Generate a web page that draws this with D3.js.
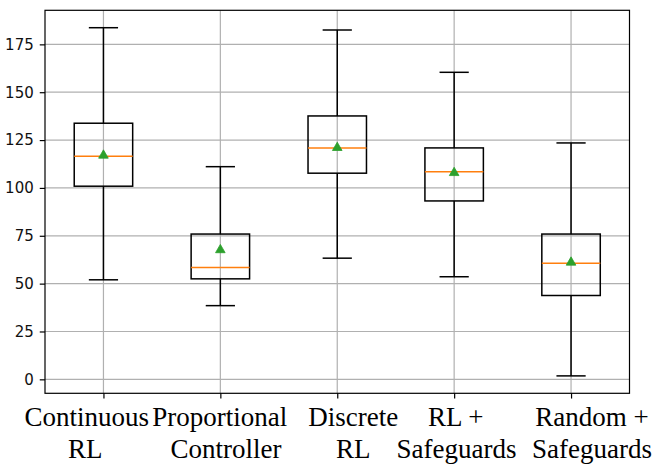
<!DOCTYPE html>
<html>
<head>
<meta charset="utf-8">
<script src="https://cdn.jsdelivr.net/npm/d3@7"></script>
<style>
  html, body { margin: 0; padding: 0; background: #fff; }
  svg { display: block; }
</style>
</head>
<body>
<script>
// ---- data ----
const categories = [["Continuous", "RL"], ["Proportional", "Controller"], ["Discrete", "RL"], ["RL +", "Safeguards"], ["Random +", "Safeguards"]];
const whiskerLow  = [52.0, 38.5, 63.3, 53.6, 1.8];
const q1Values    = [100.9, 52.5, 107.7, 93.2, 43.8];
const medians     = [116.6, 58.4, 120.9, 108.4, 60.7];
const q3Values    = [133.8, 75.9, 137.6, 120.9, 75.9];
const whiskerHigh = [183.7, 111.1, 182.5, 160.4, 123.5];
const means       = [117.0, 67.6, 121.0, 107.9, 61.1];
const yTicks      = [0, 25, 50, 75, 100, 125, 150, 175];

// ---- layout ----
const W = 655, H = 465;
const plot = { left: 45, right: 629.5, top: 10.3, bottom: 393.3 };
const labelShift1 = [-16.8, -0.7, 16, 1.5, 21];
const labelShift2 = [-18.2, 5.7, 16, 2.3, 21];

const svg = d3.select("body").append("svg").attr("width", W).attr("height", H);

const idx = d3.range(categories.length);
const x = d3.scaleLinear().domain([0.5, categories.length + 0.5]).range([plot.left, plot.right]);
const lo = d3.min(whiskerLow), hi = d3.max(whiskerHigh);
const pad = (hi - lo) * 0.05;
const y = d3.scaleLinear().domain([lo - pad, hi + pad]).range([plot.bottom, plot.top]);

const gridColor = "#b0b0b0";
// grid
svg.append("g").selectAll("line.h").data(yTicks).join("line")
  .attr("x1", plot.left).attr("x2", plot.right)
  .attr("y1", d => y(d)).attr("y2", d => y(d))
  .attr("stroke", gridColor).attr("stroke-width", 1.2);
svg.append("g").selectAll("line.v").data(idx).join("line")
  .attr("x1", i => x(i + 1)).attr("x2", i => x(i + 1))
  .attr("y1", plot.top).attr("y2", plot.bottom)
  .attr("stroke", gridColor).attr("stroke-width", 1.2);

// axes
const yAxis = d3.axisLeft(y).tickValues(yTicks).tickSize(5.25).tickPadding(6);
const gy = svg.append("g").attr("transform", `translate(${plot.left},0)`).call(yAxis);
gy.select(".domain").remove();
gy.selectAll(".tick line").attr("stroke", "#000").attr("stroke-width", 1.2);
gy.selectAll(".tick text").attr("font-family", "DejaVu Sans").attr("font-size", 15).attr("fill", "#111");

const xAxis = d3.axisBottom(x).tickValues(idx.map(i => i + 1)).tickSize(5.25).tickFormat("");
const gx = svg.append("g").attr("transform", `translate(0,${plot.bottom})`).call(xAxis);
gx.select(".domain").remove();
gx.selectAll(".tick line").attr("stroke", "#000").attr("stroke-width", 1.2);

// frame
svg.append("rect").attr("x", plot.left).attr("y", plot.top)
  .attr("width", plot.right - plot.left).attr("height", plot.bottom - plot.top)
  .attr("fill", "none").attr("stroke", "#000").attr("stroke-width", 1.2);

// boxes
const bw = x(1.25) - x(1);   // half box width (0.5 units total)
const cw = x(1.125) - x(1);  // half cap width
const g = svg.append("g").selectAll("g").data(idx).join("g");
const lineStyle = s => s.attr("stroke", "#000").attr("stroke-width", 1.5).attr("fill", "none");

g.append("line").attr("x1", i => x(i + 1)).attr("x2", i => x(i + 1))
  .attr("y1", i => y(q3Values[i])).attr("y2", i => y(whiskerHigh[i])).call(lineStyle);
g.append("line").attr("x1", i => x(i + 1)).attr("x2", i => x(i + 1))
  .attr("y1", i => y(q1Values[i])).attr("y2", i => y(whiskerLow[i])).call(lineStyle);
g.append("line").attr("x1", i => x(i + 1) - cw).attr("x2", i => x(i + 1) + cw)
  .attr("y1", i => y(whiskerHigh[i])).attr("y2", i => y(whiskerHigh[i])).call(lineStyle);
g.append("line").attr("x1", i => x(i + 1) - cw).attr("x2", i => x(i + 1) + cw)
  .attr("y1", i => y(whiskerLow[i])).attr("y2", i => y(whiskerLow[i])).call(lineStyle);
g.append("rect").attr("x", i => x(i + 1) - bw).attr("width", 2 * bw)
  .attr("y", i => y(q3Values[i])).attr("height", i => y(q1Values[i]) - y(q3Values[i])).call(lineStyle);
g.append("line").attr("x1", i => x(i + 1) - bw).attr("x2", i => x(i + 1) + bw)
  .attr("y1", i => y(medians[i])).attr("y2", i => y(medians[i]))
  .attr("stroke", "#ff7f0e").attr("stroke-width", 1.5);
const tri = d3.symbol().type(d3.symbolTriangle).size(40);
g.append("path").attr("d", tri)
  .attr("transform", i => `translate(${x(i + 1)},${y(means[i])})`)
  .attr("fill", "#2ca02c").attr("stroke", "#2ca02c").attr("stroke-width", 0.8);

// category labels
const lab = svg.append("g").attr("font-family", "Liberation Serif, Times New Roman, serif")
  .attr("font-size", 27).attr("fill", "#000").attr("text-anchor", "middle");
lab.selectAll("text.l1").data(idx).join("text")
  .attr("x", i => x(i + 1) + labelShift1[i]).attr("y", 425.7)
  .text(i => categories[i][0]);
lab.selectAll("text.l2").data(idx).join("text")
  .attr("x", i => x(i + 1) + labelShift2[i]).attr("y", 457.7)
  .text(i => categories[i][1]);
</script>
</body>
</html>
